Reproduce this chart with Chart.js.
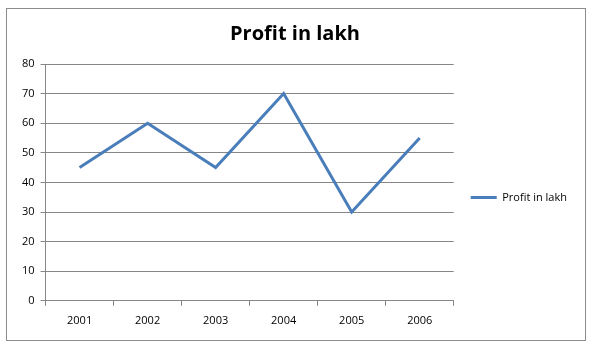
<!DOCTYPE html>
<html>
<head>
<meta charset="utf-8">
<script src="https://cdn.jsdelivr.net/npm/chart.js@4/dist/chart.umd.min.js"></script>
<style>
  html, body { margin: 0; padding: 0; background: #fff; }
  #wrap { position: relative; width: 594px; height: 352px; }
  #frame { position: absolute; left: 6px; top: 8px; width: 578px; height: 331px; border: 1px solid #8c8c8c; pointer-events: none; }
  canvas { position: absolute; left: 0; top: 0; }
</style>
</head>
<body>
<div id="wrap">
  <canvas id="myLineChart" width="594" height="352"></canvas>
  <div id="frame"></div>
</div>
<script>
// data
const years = ["2001", "2002", "2003", "2004", "2005", "2006"];
const profit = [45, 60, 45, 70, 30, 55];
const seriesName = "Profit in lakh";

const gridGrey = "#868686";
const lineBlue = "#4A7EBB";

// nudge legend and title to where the original has them
const nudge = {
  id: "nudge",
  afterLayout(chart) {
    const lg = chart.legend;
    if (lg) {
      lg.top += 25;
      lg.bottom += 25;
      lg.left += 13;
      lg.right += 13;
    }
    const tb = chart.titleBlock;
    if (tb) {
      tb.left += 5;
      tb.right += 5;
    }
  }
};

const data = {
  labels: years,
  datasets: [
    {
      label: seriesName,
      borderColor: lineBlue,
      backgroundColor: lineBlue,
      borderWidth: 3,
      pointRadius: 0,
      tension: 0,
      fill: false,
      data: profit,
    },
  ],
};

const config = {
  type: "line",
  data: data,
  plugins: [nudge],
  options: {
    responsive: false,
    animation: false,
    layout: { padding: { left: 16, right: 30, top: 10, bottom: 17 } },
    plugins: {
      title: {
        display: true,
        text: seriesName,
        color: "#000",
        font: { family: "Open Sans", size: 20, weight: "bold" },
        padding: { top: 12, bottom: 18 },
      },
      legend: {
        position: "right",
        labels: {
          color: "#000",
          font: { family: "Open Sans", size: 11 },
          boxWidth: 26,
          boxHeight: 0,
          padding: 4,
        },
      },
      tooltip: { enabled: false },
    },
    scales: {
      x: {
        offset: true,
        grid: {
          offset: true,
          drawOnChartArea: false,
          drawTicks: true,
          tickLength: 5,
          color: gridGrey,
        },
        border: { color: gridGrey },
        ticks: {
          color: "#000",
          font: { family: "Open Sans", size: 11 },
          padding: 8,
          maxRotation: 0,
        },
      },
      y: {
        min: 0,
        max: 80,
        ticks: {
          stepSize: 10,
          color: "#000",
          font: { family: "Open Sans", size: 11 },
          padding: 6,
        },
        grid: { color: gridGrey, tickLength: 5 },
        border: { color: gridGrey },
      },
    },
  },
};

const ctx = document.getElementById("myLineChart").getContext("2d");
const myLineChart = new Chart(ctx, config);
</script>
</body>
</html>
